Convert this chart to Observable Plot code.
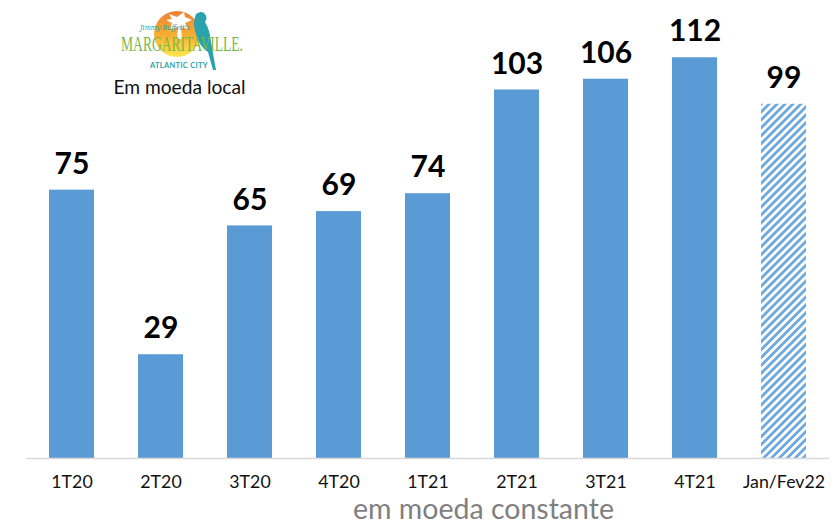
<!DOCTYPE html>
<html>
<head>
<meta charset="utf-8">
<script src="https://cdn.jsdelivr.net/npm/d3@7"></script>
<script src="https://cdn.jsdelivr.net/npm/@observablehq/plot@0.6"></script>
<style>
html,body{margin:0;padding:0;background:#fff}
#wrap{position:relative;width:838px;height:526px;overflow:hidden}
#wrap svg.chart{display:block}
</style>
</head>
<body>
<div id="wrap"></div>
<script>
const quarters = ["1T20","2T20","3T20","4T20","1T21","2T21","3T21","4T21","Jan/Fev22"];
const values = [75,29,65,69,74,103,106,112,99];
const hatchedQuarter = "Jan/Fev22";
const logoScript = "Jimmy Buffett's";
const logoTitle = "MARGARITAVILLE.";
const logoCity = "ATLANTIC CITY";
const localNote = "Em moeda local";
const footNote = "em moeda constante";

const rows = quarters.map((q,i)=>({q,v:values[i]}));
const solid = rows.filter(d=>d.q!==hatchedQuarter);
const hatched = rows.filter(d=>d.q===hatchedQuarter);
const font = "Lato, 'Open Sans', sans-serif";

const defs = () => {
  const s = d3.create("svg:g");
  const p = s.append("defs").append("pattern")
    .attr("id","hatch").attr("width",5.6).attr("height",5.6)
    .attr("patternUnits","userSpaceOnUse").attr("patternTransform","rotate(45)");
  p.append("rect").attr("width",5.6).attr("height",5.6).attr("fill","#ffffff");
  p.append("rect").attr("width",2.8).attr("height",5.6).attr("fill","#6fa8dc");
  return s.node();
};

const chart = Plot.plot({
  width:838, height:526,
  marginLeft:26, marginRight:9, marginTop:0, marginBottom:68,
  style:{fontFamily:font, background:"#fff"},
  x:{domain:quarters, paddingInner:0.495, paddingOuter:0.2475, align:0.5, label:null},
  y:{domain:[0,128], range:[458, 0], axis:null},
  marks:[
    defs,
    Plot.barY(solid,{x:"q",y:"v",fill:"#5b9bd5"}),
    Plot.barY(hatched,{x:"q",y:"v",fill:"url(#hatch)"}),
    Plot.ruleY([0],{stroke:"#d9d9d9",strokeWidth:1.5}),
    Plot.text(rows,{x:"q",y:"v",text:d=>String(d.v),dy:-26,fill:"#000",fontSize:30,fontWeight:700,lineAnchor:"middle"}),
    Plot.axisX({fontSize:17.8,tickSize:0,tickPadding:17,label:null,fill:"#111"})
  ]
});
chart.classList.add("chart");
document.getElementById("wrap").appendChild(chart);

const overlay = d3.select("#wrap").append("svg")
  .attr("width",838).attr("height",526)
  .style("position","absolute").style("left",0).style("top",0)
  .style("font-family",font);
const g = overlay.append("defs").append("linearGradient")
  .attr("id","sun").attr("x1",0).attr("x2",0).attr("y1",0).attr("y2",1);
g.append("stop").attr("offset","0").attr("stop-color","#ef7f35");
g.append("stop").attr("offset","0.55").attr("stop-color","#f8b133");
g.append("stop").attr("offset","1").attr("stop-color","#fde84e");
overlay.append("circle").attr("cx",177).attr("cy",34).attr("r",23).attr("fill","url(#sun)");
overlay.append("path").attr("d","M169 14 l8 3 l7 -5 l1 5 l7 3 l-7 3 l3 6 l-7 -2 l1 12 h-5 l1 -12 l-8 2 l2 -6 l-6 -3 l6 -1z").attr("fill","#fff");
overlay.append("path").attr("d","M196 14 q6 -4 9 0 q3 4 0 8 q5 8 6 20 l5 28 h-3 l-5 -18 q-9 -6 -12 -18 q-4 -10 0 -20z").attr("fill","#2aa3ad");
overlay.append("text").attr("x",165).attr("y",30).attr("text-anchor","middle")
  .attr("font-family","'DejaVu Serif',serif").attr("font-style","italic").attr("font-size",8).attr("fill","#2f9ea6")
  .attr("textLength",50).attr("lengthAdjust","spacingAndGlyphs").text(logoScript);
overlay.append("text").attr("x",182).attr("y",51).attr("text-anchor","middle")
  .attr("font-family","'Liberation Serif',serif").attr("font-size",21).attr("fill","#7ab648")
  .attr("textLength",122).attr("lengthAdjust","spacingAndGlyphs").text(logoTitle);
overlay.append("text").attr("x",179).attr("y",68).attr("text-anchor","middle")
  .attr("font-size",7.5).attr("font-weight",700).attr("fill","#2aa3ad").attr("letter-spacing",0.3).text(logoCity);
overlay.append("text").attr("x",179.5).attr("y",94).attr("text-anchor","middle")
  .attr("font-size",19.2).attr("fill","#111").text(localNote);
overlay.append("text").attr("x",483.5).attr("y",519).attr("text-anchor","middle")
  .attr("font-size",28.5).attr("fill","#7f7f7f").text(footNote);
</script>
</body>
</html>
